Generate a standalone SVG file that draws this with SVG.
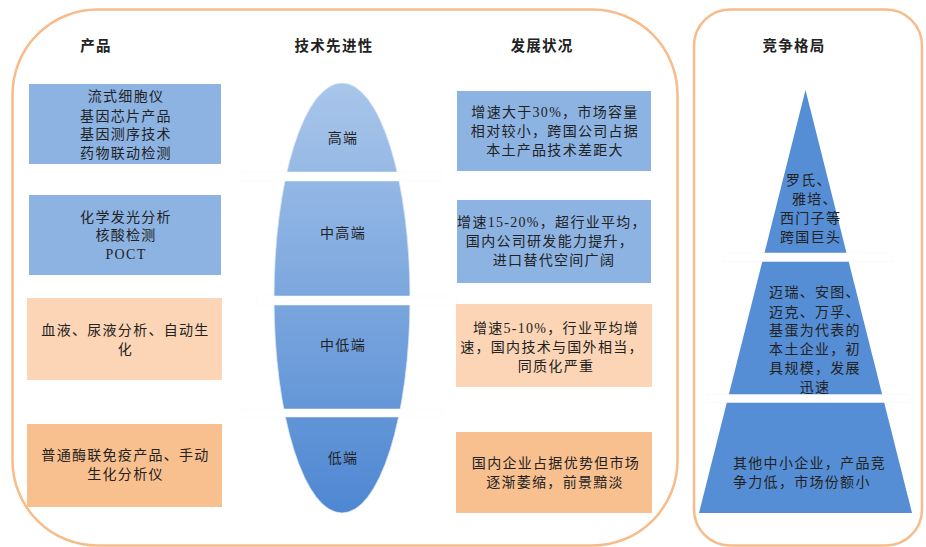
<svg xmlns="http://www.w3.org/2000/svg" width="926" height="547" viewBox="0 0 926 547">
<defs>
<linearGradient id="egg" x1="0" y1="83" x2="0" y2="513" gradientUnits="userSpaceOnUse">
<stop offset="0" stop-color="#a9c6ea"/>
<stop offset="1" stop-color="#4e87d2"/>
</linearGradient>
<style>
.frame{fill:none;stroke:#f8bb8a;stroke-width:2.5}
.blue{fill:#8db3e2}
.peach{fill:#fbd5b5}
.orange{fill:#f9c08f}
.gap{fill:#ffffff;stroke:#f6f6f6;stroke-width:0.5}
.t{font-family:"Liberation Serif","Noto Sans CJK SC",serif;font-size:14px;fill:#222;letter-spacing:1.3px}
.m{text-anchor:middle}
.h{font-weight:bold;font-size:14.5px}
</style>
</defs>
<rect width="926" height="547" fill="#ffffff"/>

<g id="frame-left"><rect class="frame" x="12.5" y="9.5" width="665" height="536" rx="85" ry="85"/></g>
<g id="frame-right"><rect class="frame" x="694" y="9.5" width="228" height="536" rx="36" ry="36"/></g>

<g id="headers">
<text class="t h m" x="96" y="51">产品</text>
<text class="t h m" x="334" y="51">技术先进性</text>
<text class="t h m" x="542" y="51">发展状况</text>
<text class="t h m" x="794" y="51">竞争格局</text>
</g>

<g id="product-1"><rect class="blue" x="29" y="84" width="192" height="80"/>
<text class="t m" x="126" y="101">流式细胞仪</text>
<text class="t m" x="126" y="120.5">基因芯片产品</text>
<text class="t m" x="126" y="139">基因测序技术</text>
<text class="t m" x="126" y="157.5">药物联动检测</text></g>
<g id="product-2"><rect class="blue" x="29" y="195" width="192" height="80"/>
<text class="t m" x="126" y="221.5">化学发光分析</text>
<text class="t m" x="126" y="240">核酸检测</text>
<text class="t m" x="126" y="259">POCT</text></g>
<g id="product-3"><rect class="peach" x="27" y="298" width="195" height="82"/>
<text class="t m" x="125.5" y="335">血液、尿液分析、自动生</text>
<text class="t m" x="125.5" y="354">化</text></g>
<g id="product-4"><rect class="orange" x="27" y="424" width="195" height="83"/>
<text class="t m" x="125.5" y="460">普通酶联免疫产品、手动</text>
<text class="t m" x="125.5" y="479">生化分析仪</text></g>

<g id="tech-shape">
<ellipse cx="342" cy="298" rx="68" ry="215" fill="url(#egg)" stroke="#dbe6f4" stroke-width="0.8"/>
<rect class="gap" x="242" y="172" width="200" height="9"/>
<rect class="gap" x="257" y="296" width="200" height="9"/>
<rect class="gap" x="242" y="409" width="200" height="8"/>
</g>
<g id="tech-high"><text class="t m" x="343" y="143">高端</text></g>
<g id="tech-midhigh"><text class="t m" x="343" y="238">中高端</text></g>
<g id="tech-midlow"><text class="t m" x="343" y="350">中低端</text></g>
<g id="tech-low"><text class="t m" x="343" y="463">低端</text></g>

<g id="dev-1"><rect class="blue" x="457" y="91" width="194" height="80"/>
<text class="t m" x="555" y="116.5">增速大于30%，市场容量</text>
<text class="t m" x="555" y="136">相对较小，跨国公司占据</text>
<text class="t m" x="555" y="155">本土产品技术差距大</text></g>
<g id="dev-2"><rect class="blue" x="457" y="200" width="194" height="83"/>
<text class="t m" x="552" y="227">增速15-20%，超行业平均，</text>
<text class="t m" x="550" y="246">国内公司研发能力提升，</text>
<text class="t m" x="554" y="265">进口替代空间广阔</text></g>
<g id="dev-3"><rect class="peach" x="456" y="304" width="196" height="83"/>
<text class="t m" x="556" y="333">增速5-10%，行业平均增</text>
<text class="t m" x="552" y="352">速，国内技术与国外相当，</text>
<text class="t m" x="556" y="371">同质化严重</text></g>
<g id="dev-4"><rect class="orange" x="456" y="432" width="196" height="81"/>
<text class="t m" x="556" y="468">国内企业占据优势但市场</text>
<text class="t m" x="555" y="487">逐渐萎缩，前景黯淡</text></g>

<g id="pyramid">
<polygon points="805.5,90 912,513 699,513" fill="#558ed5"/>
<rect class="gap" x="723" y="253" width="170" height="8.5"/>
<rect class="gap" x="708" y="394.5" width="202" height="8"/>
</g>
<g id="tier-top">
<text class="t" x="786" y="185">罗氏、</text>
<text class="t" x="792" y="204">雅培、</text>
<text class="t" x="780" y="223">西门子等</text>
<text class="t" x="780" y="242">跨国巨头</text></g>
<g id="tier-mid">
<text class="t m" x="815" y="297">迈瑞、安图、</text>
<text class="t m" x="815" y="316.5">迈克、万孚、</text>
<text class="t m" x="815" y="335">基蛋为代表的</text>
<text class="t m" x="815" y="354">本土企业，初</text>
<text class="t m" x="815" y="373">具规模，发展</text>
<text class="t m" x="815" y="391.5">迅速</text></g>
<g id="tier-base">
<text class="t" x="733" y="468">其他中小企业，产品竞</text>
<text class="t" x="733" y="487">争力低，市场份额小</text></g>

<g id="connectors"></g>
</svg>
